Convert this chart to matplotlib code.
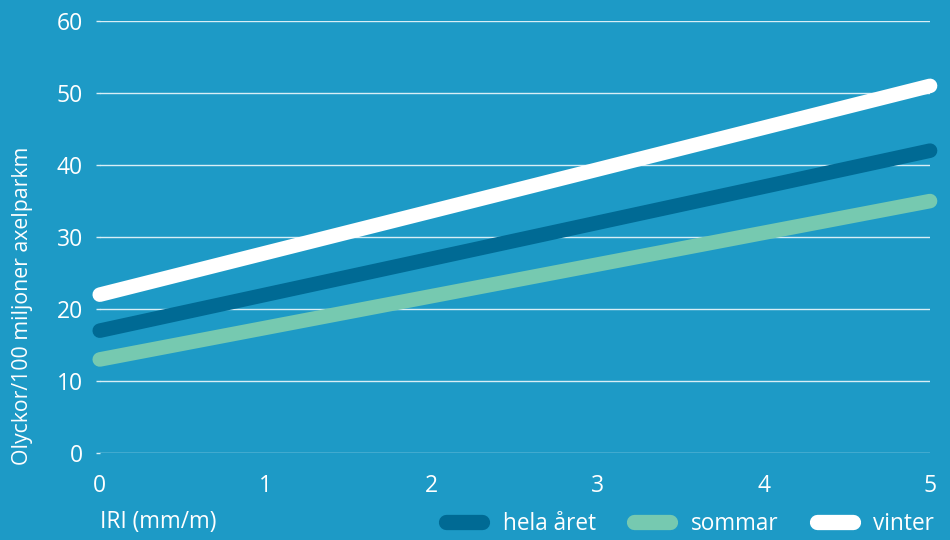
import numpy as np
import matplotlib.pyplot as plt

# Data
iri = [0, 5]
hela_aret = [17, 42]
sommar = [13, 35]
vinter = [22, 51]
series_names = ["hela året", "sommar", "vinter"]
y_ticks = [0, 10, 20, 30, 40, 50, 60]
x_ticks = [0, 1, 2, 3, 4, 5]

bg = "#1d9ac6"
colors = ["#006a94", "#76c9b0", "#ffffff"]

plt.rcParams['font.family'] = ['Open Sans', 'DejaVu Sans']

fig = plt.figure(figsize=(9.5, 5.4), dpi=100, facecolor=bg)
ax = fig.add_axes([0.105, 0.161, 0.874, 0.8])
ax.set_facecolor(bg)

for vals, c, name in zip([hela_aret, sommar, vinter], colors, series_names):
    ax.plot(iri, vals, color=c, lw=10.5, solid_capstyle="round", clip_on=False, label=name, zorder=3)

ax.set_xlim(0, 5)
ax.set_ylim(0, 60)
ax.set_xticks(x_ticks)
ax.set_yticks(y_ticks)
ax.grid(axis="y", color="#d8eef6", lw=1)
ax.set_axisbelow(True)
for s in ax.spines.values():
    s.set_visible(False)
ax.tick_params(axis="y", length=3, color="#d8eef6", width=1, labelsize=16.5, labelcolor="white", pad=9)
ax.tick_params(axis="x", length=0, labelsize=16.5, labelcolor="white", pad=15)

# y label sits lower than the axes centre in the original
fig.text(0.024, 0.433, "Olyckor/100 miljoner axelparkm", color="white", fontsize=15.3,
         rotation=90, ha="center", va="center")
fig.text(0.105, 0.012, "IRI (mm/m)", color="white", fontsize=16.3, ha="left", va="bottom")

leg = fig.legend(loc="lower right", bbox_to_anchor=(1.005, -0.03), ncol=3, frameon=False,
                 fontsize=16.3, labelcolor="white", handlelength=1.6, columnspacing=1.7,
                 handletextpad=0.9)
for line in leg.get_lines():
    line.set_linewidth(11)
    line.set_solid_capstyle("round")

fig.savefig("out.png", dpi=100, facecolor=bg)
